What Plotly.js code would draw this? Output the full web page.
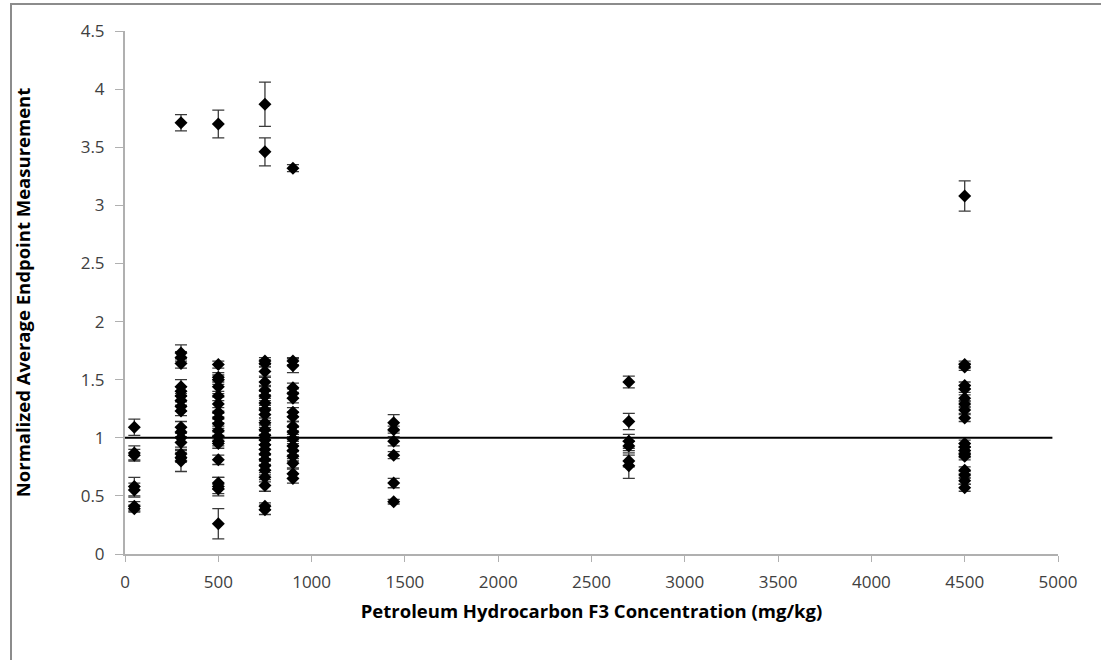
<!DOCTYPE html>
<html>
<head>
<meta charset="utf-8">
<script src="https://cdn.plot.ly/plotly-3.0.1.min.js"></script>
<style>
  html, body { margin: 0; padding: 0; background: #fff; }
  #wrap { position: relative; width: 1101px; height: 660px; }
  #chart { position: absolute; left: 0; top: 0; width: 1101px; height: 660px; }
  #frame { position: absolute; left: 10px; top: 3px; width: 1100px; height: 670px;
           border-left: 2px solid #8c8c8c; border-top: 2px solid #8c8c8c; pointer-events: none; }
</style>
</head>
<body>
<div id="wrap">
  <div id="chart"></div>
  <div id="frame"></div>
</div>
<script>
// Concentrations (mg/kg)
const concentrations = [50, 300, 500, 750, 900, 1440, 2700, 4500];

// Normalized average endpoint measurements at each concentration
const y50   = [1.09, 0.87, 0.85, 0.58, 0.55, 0.41, 0.39];
const e50   = [0.07, 0.06, 0.05, 0.08, 0.06, 0.04, 0.03];

const y300  = [3.71, 1.73, 1.69, 1.64, 1.44, 1.40, 1.36, 1.32, 1.27, 1.23, 1.09, 1.05, 1.00, 0.96, 0.86, 0.83, 0.80];
const e300  = [0.07, 0.07, 0.05, 0.04, 0.06, 0.04, 0.04, 0.04, 0.04, 0.04, 0.05, 0.04, 0.04, 0.04, 0.04, 0.04, 0.09];

const y500  = [3.70, 1.63, 1.52, 1.50, 1.44, 1.36, 1.29, 1.22, 1.17, 1.12, 1.06, 1.01, 0.97, 0.95, 0.81, 0.61, 0.58, 0.56, 0.26];
const e500  = [0.12, 0.03, 0.04, 0.04, 0.06, 0.04, 0.06, 0.04, 0.04, 0.04, 0.04, 0.04, 0.04, 0.04, 0.04, 0.05, 0.08, 0.04, 0.13];

const y750  = [3.87, 3.46, 1.66, 1.64, 1.57, 1.48, 1.41, 1.36, 1.30, 1.24, 1.20, 1.13, 1.07, 1.02, 0.98, 0.94, 0.90, 0.86, 0.81, 0.76, 0.72, 0.66, 0.59, 0.41, 0.38];
const e750  = [0.19, 0.12, 0.03, 0.03, 0.04, 0.04, 0.04, 0.04, 0.04, 0.04, 0.05, 0.04, 0.04, 0.04, 0.04, 0.04, 0.04, 0.04, 0.04, 0.04, 0.04, 0.04, 0.05, 0.03, 0.04];

const y900  = [3.32, 1.66, 1.62, 1.43, 1.38, 1.34, 1.22, 1.18, 1.10, 1.05, 0.99, 0.93, 0.89, 0.84, 0.78, 0.69, 0.65];
const e900  = [0.03, 0.03, 0.06, 0.04, 0.04, 0.04, 0.04, 0.04, 0.04, 0.04, 0.04, 0.04, 0.04, 0.04, 0.04, 0.04, 0.04];

const y1440 = [1.13, 1.07, 0.97, 0.85, 0.61, 0.45];
const e1440 = [0.07, 0.03, 0.04, 0.03, 0.04, 0.02];

const y2700 = [1.48, 1.14, 0.97, 0.93, 0.80, 0.76];
const e2700 = [0.05, 0.07, 0.06, 0.04, 0.05, 0.11];

const y4500 = [3.08, 1.63, 1.61, 1.45, 1.42, 1.34, 1.29, 1.24, 1.17, 0.95, 0.92, 0.89, 0.86, 0.84, 0.72, 0.68, 0.63, 0.57];
const e4500 = [0.13, 0.03, 0.03, 0.03, 0.03, 0.03, 0.03, 0.03, 0.03, 0.03, 0.03, 0.03, 0.03, 0.03, 0.03, 0.03, 0.03, 0.03];

// Reference line at normalized value 1
const refLineX = [0, 4970];
const refLineY = [1, 1];

// Axis ticks
const xTicks = [0, 500, 1000, 1500, 2000, 2500, 3000, 3500, 4000, 4500, 5000];
const yTicks = [0, 0.5, 1, 1.5, 2, 2.5, 3, 3.5, 4, 4.5];
const yTickText = ["0", "0.5", "1", "1.5", "2", "2.5", "3", "3.5", "4", "4.5"];

const groupsY = [y50, y300, y500, y750, y900, y1440, y2700, y4500];
const groupsE = [e50, e300, e500, e750, e900, e1440, e2700, e4500];

const xs = [], ys = [], es = [];
groupsY.forEach((g, i) => {
  g.forEach((v, j) => { xs.push(concentrations[i]); ys.push(v); es.push(groupsE[i][j]); });
});

const traces = [
  {
    x: refLineX, y: refLineY, mode: 'lines', type: 'scatter',
    line: { color: '#000000', width: 2 }, hoverinfo: 'skip', showlegend: false
  },
  {
    x: xs, y: ys, mode: 'markers', type: 'scatter', showlegend: false,
    marker: { symbol: 'diamond', size: 10, color: '#000000' },
    error_y: { type: 'data', array: es, visible: true, color: '#3a3a3a', thickness: 1.3, width: 6 }
  }
];

const tickFont = { family: 'Open Sans, Noto Sans, sans-serif', size: 17, color: '#404040' };
const titleFont = { family: 'Open Sans, Noto Sans, sans-serif', size: 18.5, color: '#000000' };

const layout = {
  width: 1101, height: 660,
  margin: { l: 125, r: 43, t: 31, b: 106 },
  paper_bgcolor: '#ffffff', plot_bgcolor: '#ffffff',
  showlegend: false,
  xaxis: {
    range: [0, 5000], tickvals: xTicks, ticks: 'outside', ticklen: 6, tickcolor: '#b0b0b0',
    showline: true, linecolor: '#b0b0b0', linewidth: 2, showgrid: false, zeroline: false,
    tickfont: tickFont, ticklabelstandoff: 6,
    title: { text: '<b>Petroleum Hydrocarbon F3 Concentration (mg/kg)</b>', font: titleFont, standoff: 13 }
  },
  yaxis: {
    range: [0, 4.5], tickvals: yTicks, ticktext: yTickText, ticks: 'outside', ticklen: 8, tickcolor: '#b0b0b0',
    showline: true, linecolor: '#b0b0b0', linewidth: 2, showgrid: false, zeroline: false,
    tickfont: tickFont, ticklabelstandoff: 7,
    title: { text: '<b>Normalized Average Endpoint Measurement</b>', font: titleFont, standoff: 45 }
  }
};

Plotly.newPlot('chart', traces, layout, { displayModeBar: false, staticPlot: true });
</script>
</body>
</html>
